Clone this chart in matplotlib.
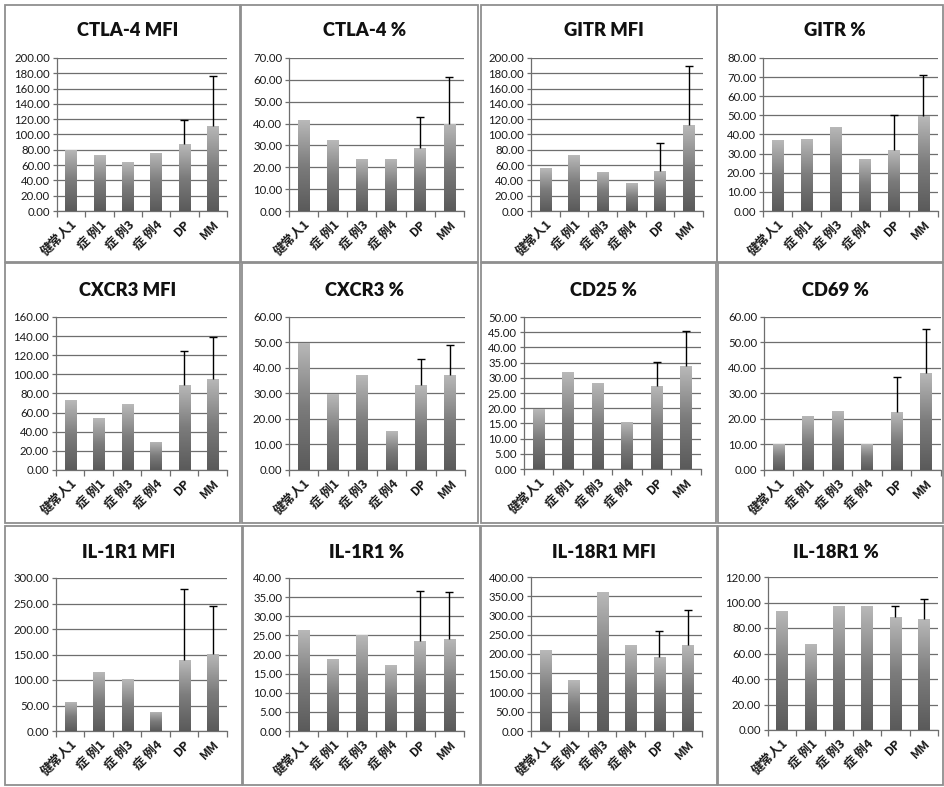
import numpy as np
import matplotlib
matplotlib.use("Agg")
import matplotlib.pyplot as plt
from matplotlib.patches import Rectangle
from matplotlib.colors import LinearSegmentedColormap

# ---- data ----
categories = ["健常人1", "症 例1", "症 例3", "症 例4", "DP", "MM"]

titles = ["CTLA-4 MFI", "CTLA-4 %", "GITR MFI", "GITR %",
          "CXCR3 MFI", "CXCR3 %", "CD25 %", "CD69 %",
          "IL-1R1 MFI", "IL-1R1 %", "IL-18R1 MFI", "IL-18R1 %"]

ctla4_mfi = [80.0, 73.0, 63.5, 76.0, 87.5, 111.5]
ctla4_pct = [41.6, 32.3, 24.0, 24.0, 28.6, 40.0]
gitr_mfi = [56.0, 73.0, 51.0, 36.0, 52.6, 112.0]
gitr_pct = [37.0, 37.8, 44.0, 27.3, 31.7, 49.6]
cxcr3_mfi = [72.7, 54.3, 68.5, 29.6, 89.4, 95.6]
cxcr3_pct = [49.9, 29.7, 37.1, 15.1, 33.2, 37.4]
cd25_pct = [19.9, 31.8, 28.3, 15.6, 27.4, 33.8]
cd69_pct = [10.2, 21.3, 23.3, 10.2, 22.6, 38.1]
il1r1_mfi = [56.9, 115.7, 101.0, 37.9, 138.6, 151.6]
il1r1_pct = [26.5, 18.9, 25.0, 17.2, 23.4, 24.1]
il18r1_mfi = [210.0, 132.0, 361.0, 222.5, 192.0, 224.0]
il18r1_pct = [93.7, 67.7, 96.9, 97.1, 89.0, 87.1]

# upper error (SD) for the DP and MM group means
ctla4_mfi_err = [32.0, 65.3]
ctla4_pct_err = [14.6, 21.4]
gitr_mfi_err = [36.4, 77.5]
gitr_pct_err = [18.3, 21.7]
cxcr3_mfi_err = [35.5, 43.5]
cxcr3_pct_err = [10.4, 11.7]
cd25_pct_err = [7.7, 11.6]
cd69_pct_err = [13.8, 17.3]
il1r1_mfi_err = [140.4, 93.4]
il1r1_pct_err = [13.1, 12.2]
il18r1_mfi_err = [68.0, 89.0]
il18r1_pct_err = [7.9, 15.3]

# axis maxima and tick steps
y_max = [200, 70, 200, 80, 160, 60, 50, 60, 300, 40, 400, 120]
y_step = [20, 10, 20, 10, 20, 10, 5, 10, 50, 5, 50, 20]

series = [ctla4_mfi, ctla4_pct, gitr_mfi, gitr_pct,
          cxcr3_mfi, cxcr3_pct, cd25_pct, cd69_pct,
          il1r1_mfi, il1r1_pct, il18r1_mfi, il18r1_pct]
errors = [ctla4_mfi_err, ctla4_pct_err, gitr_mfi_err, gitr_pct_err,
          cxcr3_mfi_err, cxcr3_pct_err, cd25_pct_err, cd69_pct_err,
          il1r1_mfi_err, il1r1_pct_err, il18r1_mfi_err, il18r1_pct_err]

# ---- layout (pixel boxes) ----
W, H = 945, 787
# plot areas: left, top, right, bottom
plot_boxes = [
    (57, 58, 227, 211), (289, 58, 464, 211), (531, 58, 703, 211), (763, 58, 938, 211),
    (56, 317, 227, 470), (289, 317, 465, 470), (524, 317, 701, 469), (764, 317, 941, 470),
    (56, 578, 227, 731), (289, 578, 464, 731), (531, 577, 702, 731), (768, 577, 938, 730),
]
# panel frames: left, top, right, bottom
frames = [
    (5, 5, 240, 262), (241, 5, 478, 262), (481, 5, 717, 262), (717, 5, 943, 262),
    (5, 263, 240, 523), (242, 263, 478, 523), (481, 263, 716, 523), (718, 263, 943, 523),
    (5, 526, 242, 785), (243, 526, 480, 785), (481, 526, 717, 785), (718, 526, 943, 785),
]
title_y = [30, 290, 552]

fig = plt.figure(figsize=(W / 100, H / 100), dpi=100)
fig.patch.set_facecolor("white")

for (l, t, r, b) in frames:
    fig.add_artist(Rectangle((l / W, 1 - b / H), (r - l) / W, (b - t) / H,
                             transform=fig.transFigure, fill=False,
                             edgecolor="#8f8f8f", linewidth=1.3))

grad_cmap = LinearSegmentedColormap.from_list("bar_grad", ["#5a5a5a", "#7c7c7c", "#b9b9b9"])
grad = np.linspace(0, 1, 256).reshape(-1, 1)

cjk_font = ["Noto Sans CJK SC", "DejaVu Sans"]
num_font = "Lato"

x = np.arange(len(categories))

for i in range(12):
    l, t, r, b = plot_boxes[i]
    ax = fig.add_axes([l / W, 1 - b / H, (r - l) / W, (b - t) / H])
    vals = series[i]

    bars = ax.bar(x, vals, width=0.4, color="none", edgecolor="none", zorder=3)
    for bar in bars:
        bx, bw, bh = bar.get_x(), bar.get_width(), bar.get_height()
        im = ax.imshow(grad, cmap=grad_cmap, origin="lower", aspect="auto",
                       extent=(bx, bx + bw, 0, bh), zorder=3, interpolation="bilinear")
        im.set_clip_path(bar)

    # upper-only error bars on the group means
    eb = ax.errorbar(x[4:], vals[4:], yerr=[[0, 0], errors[i]], fmt="none",
                     ecolor="black", elinewidth=1.0, capsize=3.0, capthick=1.0, zorder=4)
    for cap in eb[1]:
        if np.allclose(cap.get_ydata(), vals[4:]):
            cap.set_visible(False)

    ax.set_xlim(-0.5, len(categories) - 0.5)
    ax.set_ylim(0, y_max[i])
    ticks = np.arange(0, y_max[i] + y_step[i] / 2, y_step[i])
    ax.set_yticks(ticks)
    ax.set_yticklabels([f"{v:.2f}" for v in ticks], fontsize=8.2,
                       family=num_font, color="#1a1a1a")
    ax.yaxis.grid(True, color="#6e6e6e", linewidth=0.9, zorder=0)
    ax.set_axisbelow(True)

    ax.set_xticks(x)
    ax.set_xticklabels(categories, rotation=45, ha="right", rotation_mode="anchor",
                       fontsize=9, family=cjk_font, fontweight="bold", color="#1a1a1a")
    ax.set_xticks(np.arange(-0.5, len(categories), 1.0), minor=True)
    ax.tick_params(axis="x", which="major", length=0, pad=5)
    ax.tick_params(axis="x", which="minor", length=4, color="#6e6e6e", width=0.9)
    ax.tick_params(axis="y", length=3, color="#6e6e6e", width=0.9, pad=2)

    for side in ("top", "right"):
        ax.spines[side].set_visible(False)
    for side in ("left", "bottom"):
        ax.spines[side].set_color("#6e6e6e")
        ax.spines[side].set_linewidth(0.9)

    fl, ft, fr, fb = frames[i]
    row = i // 4
    fig.text(((fl + fr) / 2 + 5) / W, 1 - title_y[row] / H, titles[i],
             ha="center", va="center", fontsize=13.2, fontweight="heavy",
             family=num_font, color="#111111")

fig.savefig("out.png", dpi=100, facecolor="white")
